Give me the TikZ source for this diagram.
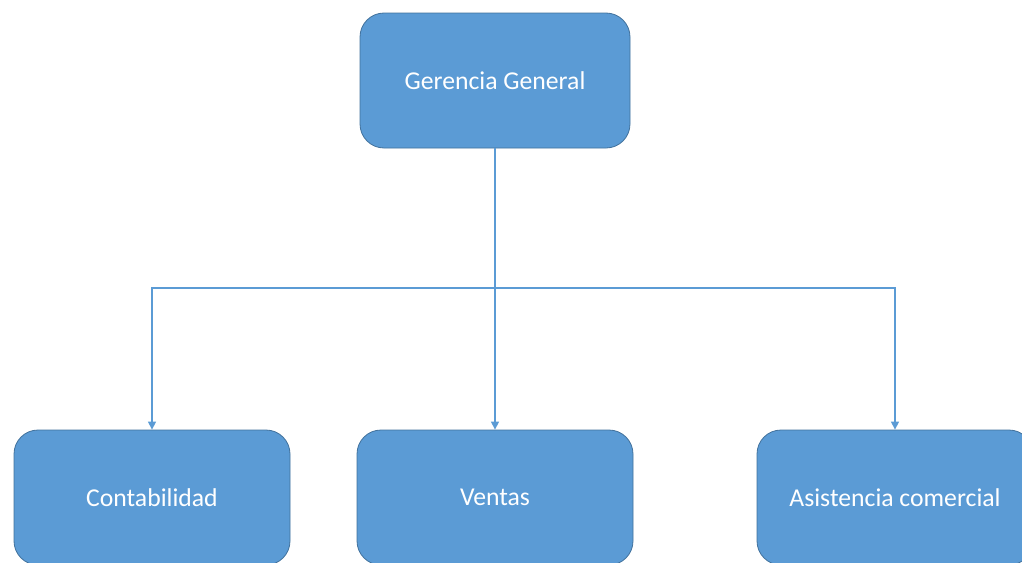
\documentclass[tikz,border=0pt]{standalone}
\usepackage{fontspec}
\setmainfont{Carlito}
\usetikzlibrary{arrows.meta}
\definecolor{boxfill}{HTML}{5B9BD5}
\definecolor{boxline}{HTML}{41719C}
\tikzset{
    unit/.style={draw=boxline, line width=0.8pt, fill=boxfill, rounded corners=24pt,
        minimum width=276pt, minimum height=135pt, inner sep=0pt,
        text=white, font=\fontsize{25.7}{30}\selectfont},
    link/.style={draw=boxfill, line width=1.3pt},
    tip/.style={-{Triangle[width=8pt,length=8pt]}}
}
\begin{document}
\begin{tikzpicture}[x=1pt,y=-1pt]
    \useasboundingbox (0,0) rectangle (1022,562);
    % top level
    \node[unit, minimum width=270pt] (gerencia) at (495,80.5) {Gerencia General};
    % second level
    \node[unit] (contab) at (152,497.5) {Contabilidad};
    \node[unit] (ventas) at (495,497.5) {Ventas};
    \node[unit] (asist) at (895,497.5) {Asistencia comercial};
    % connectors
    \coordinate (split) at (495,288);
    \draw[link] (gerencia.south) -- (split);
    \draw[link, tip] (split) -| (contab.north);
    \draw[link, tip] (split) -- (ventas.north);
    \draw[link, tip] (split) -| (asist.north);
\end{tikzpicture}
\end{document}
